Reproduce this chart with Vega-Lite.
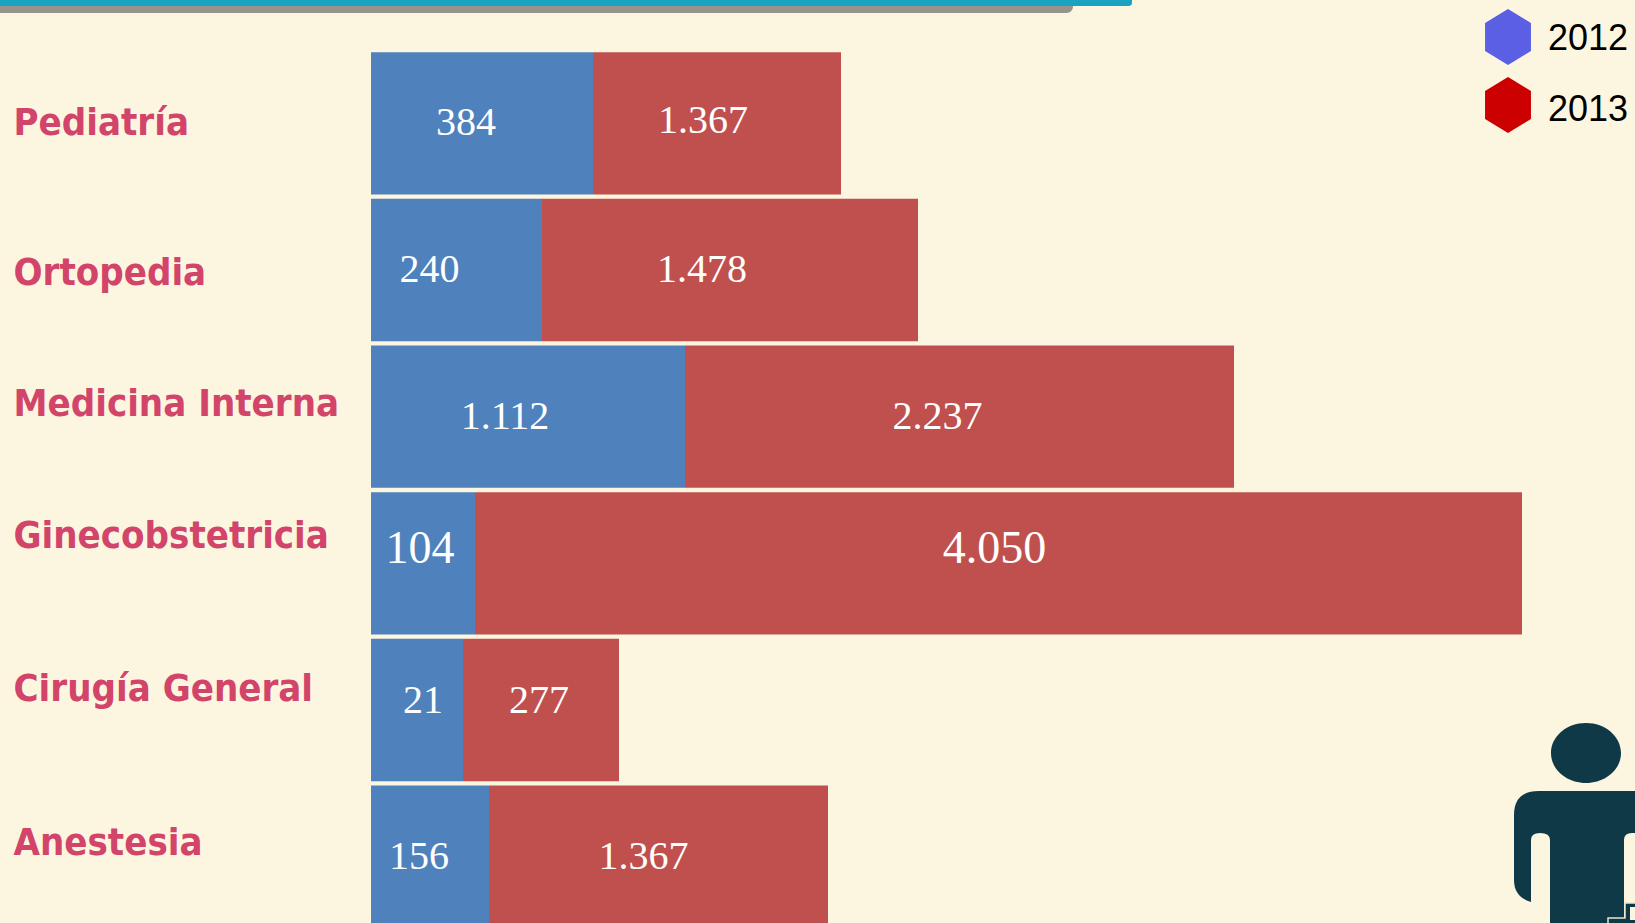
{
"$schema":"https://vega.github.io/schema/vega-lite/v6.json",
"width":1264,"height":923,
"autosize":"none",
"padding":{"left":371,"top":0,"right":0,"bottom":0},
"background":"#fcf5df",
"view":{"stroke":null},
"resolve":{"scale":{"x":"independent","y":"independent"}},
"layer":[
{"layer":[
{"data":{"values":[{"part":"sombra"}]},
 "mark":{"type":"rect","color":"#98948a","cornerRadiusBottomRight":7},
 "encoding":{
  "x":{"datum":0,"type":"quantitative","axis":null,"scale":{"domain":[0,1635],"range":[-371,1264]}},
  "x2":{"datum":1073},
  "y":{"datum":0,"type":"quantitative","axis":null,"scale":{"domain":[923,0],"range":[923,0]}},
  "y2":{"datum":13}}},
{"data":{"values":[{"part":"banda"}]},
 "mark":{"type":"rect","color":"#19a3c0","cornerRadiusBottomRight":6},
 "encoding":{
  "x":{"datum":0,"type":"quantitative","axis":null,"scale":{"domain":[0,1635],"range":[-371,1264]}},
  "x2":{"datum":1132},
  "y":{"datum":0,"type":"quantitative","axis":null,"scale":{"domain":[923,0],"range":[923,0]}},
  "y2":{"datum":6}}},
{"data":{"values":[{"part":"persona"}]},
 "mark":{"type":"point","filled":true,"opacity":1,"size":40000,"color":"#0f3947",
  "shape":"M-0.35,-0.97 A0.35,0.30 0 1 1 0.35,-0.97 A0.35,0.30 0 1 1 -0.35,-0.97 Z M-0.47,-0.59 L0.60,-0.59 L0.60,-0.17 L0.46,-0.17 Q0.38,-0.17 0.38,-0.10 L0.38,0.80 L-0.36,0.80 L-0.36,-0.10 Q-0.36,-0.17 -0.46,-0.17 Q-0.55,-0.17 -0.55,-0.10 L-0.55,0.52 Q-0.72,0.47 -0.72,0.30 L-0.72,-0.35 Q-0.72,-0.59 -0.47,-0.59 Z"},
 "encoding":{
  "x":{"datum":1586,"type":"quantitative","axis":null,"scale":{"domain":[0,1635],"range":[-371,1264]}},
  "y":{"datum":850,"type":"quantitative","axis":null,"scale":{"domain":[923,0],"range":[923,0]}}}},
{"data":{"values":[{"part":"escalera"}]},
 "mark":{"type":"point","opacity":1,"size":40000,"fill":"#0f3947","fillOpacity":1,"stroke":"#e8e6cf","strokeWidth":1.5,
  "shape":"M0.22,0.80 L0.22,0.68 L0.39,0.68 L0.39,0.53 L0.60,0.53 L0.60,0.80 Z"},
 "encoding":{
  "x":{"datum":1586,"type":"quantitative","axis":null,"scale":{"domain":[0,1635],"range":[-371,1264]}},
  "y":{"datum":850,"type":"quantitative","axis":null,"scale":{"domain":[923,0],"range":[923,0]}}}},
{"data":{"values":[{"part":"escalon"}]},
 "mark":{"type":"point","filled":true,"opacity":1,"size":40000,"color":"#fcf5df",
  "shape":"M0.44,0.57 L0.60,0.57 L0.60,0.70 L0.44,0.70 Z"},
 "encoding":{
  "x":{"datum":1586,"type":"quantitative","axis":null,"scale":{"domain":[0,1635],"range":[-371,1264]}},
  "y":{"datum":850,"type":"quantitative","axis":null,"scale":{"domain":[923,0],"range":[923,0]}}}}
]},
{"data":{"values":[
{"category":"Pediatría","year":2012,"length":222,"label":"384"},
{"category":"Pediatría","year":2013,"length":248,"label":"1.367"},
{"category":"Ortopedia","year":2012,"length":171,"label":"240"},
{"category":"Ortopedia","year":2013,"length":376,"label":"1.478"},
{"category":"Medicina Interna","year":2012,"length":314,"label":"1.112"},
{"category":"Medicina Interna","year":2013,"length":549,"label":"2.237"},
{"category":"Ginecobstetricia","year":2012,"length":104,"label":"104"},
{"category":"Ginecobstetricia","year":2013,"length":1047,"label":"4.050"},
{"category":"Cirugía General","year":2012,"length":92,"label":"21"},
{"category":"Cirugía General","year":2013,"length":156,"label":"277"},
{"category":"Anestesia","year":2012,"length":118,"label":"156"},
{"category":"Anestesia","year":2013,"length":339,"label":"1.367"}
]},
"encoding":{
 "y":{"field":"category","type":"nominal","sort":null,"title":null,
  "scale":{"range":[50,930],"paddingInner":0.03,"paddingOuter":0.015},
  "axis":{"domain":false,"ticks":false,"labelPadding":358,"labelAlign":"left","labelBaseline":"middle","labelFont":"DejaVu Sans Condensed, Liberation Sans","labelFontWeight":"bold","labelFontSize":38,"labelColor":"#d2446a","labelLimit":400,"grid":false,
   "labelOffset":{"expr":"{'Pediatría':1,'Ortopedia':4,'Medicina Interna':-12,'Ginecobstetricia':-26,'Cirugía General':-20,'Anestesia':-13}[datum.value]"}}}
},
"layer":[
{"mark":{"type":"bar"},
 "encoding":{
  "x":{"field":"length","type":"quantitative","stack":"zero","axis":null,"scale":{"domain":[0,1264],"nice":false}},
  "order":{"field":"year"},
  "fill":{"field":"year","type":"nominal","legend":null,"scale":{"range":["#4f81bd","#c0504d"]}}}},
{"mark":{"type":"point","filled":true,"opacity":0,"size":1},
 "encoding":{
  "x":{"field":"length","type":"quantitative","stack":null,"axis":null,"scale":{"domain":[0,1264],"nice":false}},
  "color":{"field":"year","type":"nominal","scale":{"domain":[2012,2013],"range":["#5a5fe3","#cc0000"]},
   "legend":{"orient":"none","legendX":1109,"legendY":9,"title":null,"padding":0,"symbolType":"M0,-1 L0.82,-0.5 L0.82,0.5 L0,1 L-0.82,0.5 L-0.82,-0.5 Z","symbolSize":3136,"symbolStrokeWidth":0,"symbolOpacity":1,"labelFont":"Liberation Sans","labelFontSize":36,"labelColor":"#000000","labelOffset":12,"rowPadding":12,"labelLimit":200,
    "encode":{"labels":{"update":{"dy":{"signal":"datum.value==2012?2:5"}}}}}}}},
{"mark":{"type":"text","color":"#ffffff","font":"Liberation Serif","baseline":"middle","align":"center",
  "fontSize":{"expr":"datum.category=='Ginecobstetricia'?46:40"},
  "dx":{"expr":"{'Pediatría':[-16,-14],'Ortopedia':[-27,-28],'Medicina Interna':[-23,-22],'Ginecobstetricia':[-3,-4],'Cirugía General':[6,-2],'Anestesia':[-11,-15]}[datum.category][datum.year-2012]"},
  "dy":{"expr":"{'Pediatría':[0,-2],'Ortopedia':[0,0],'Medicina Interna':[0,0],'Ginecobstetricia':[-14,-14],'Cirugía General':[-9,-9],'Anestesia':[0,0]}[datum.category][datum.year-2012]"}},
 "encoding":{
  "x":{"field":"length","type":"quantitative","stack":"zero","bandPosition":0.5,"axis":null,"scale":{"domain":[0,1264],"nice":false}},
  "order":{"field":"year"},
  "detail":{"field":"year"},
  "text":{"field":"label","type":"nominal"}}}
]}
]
}
